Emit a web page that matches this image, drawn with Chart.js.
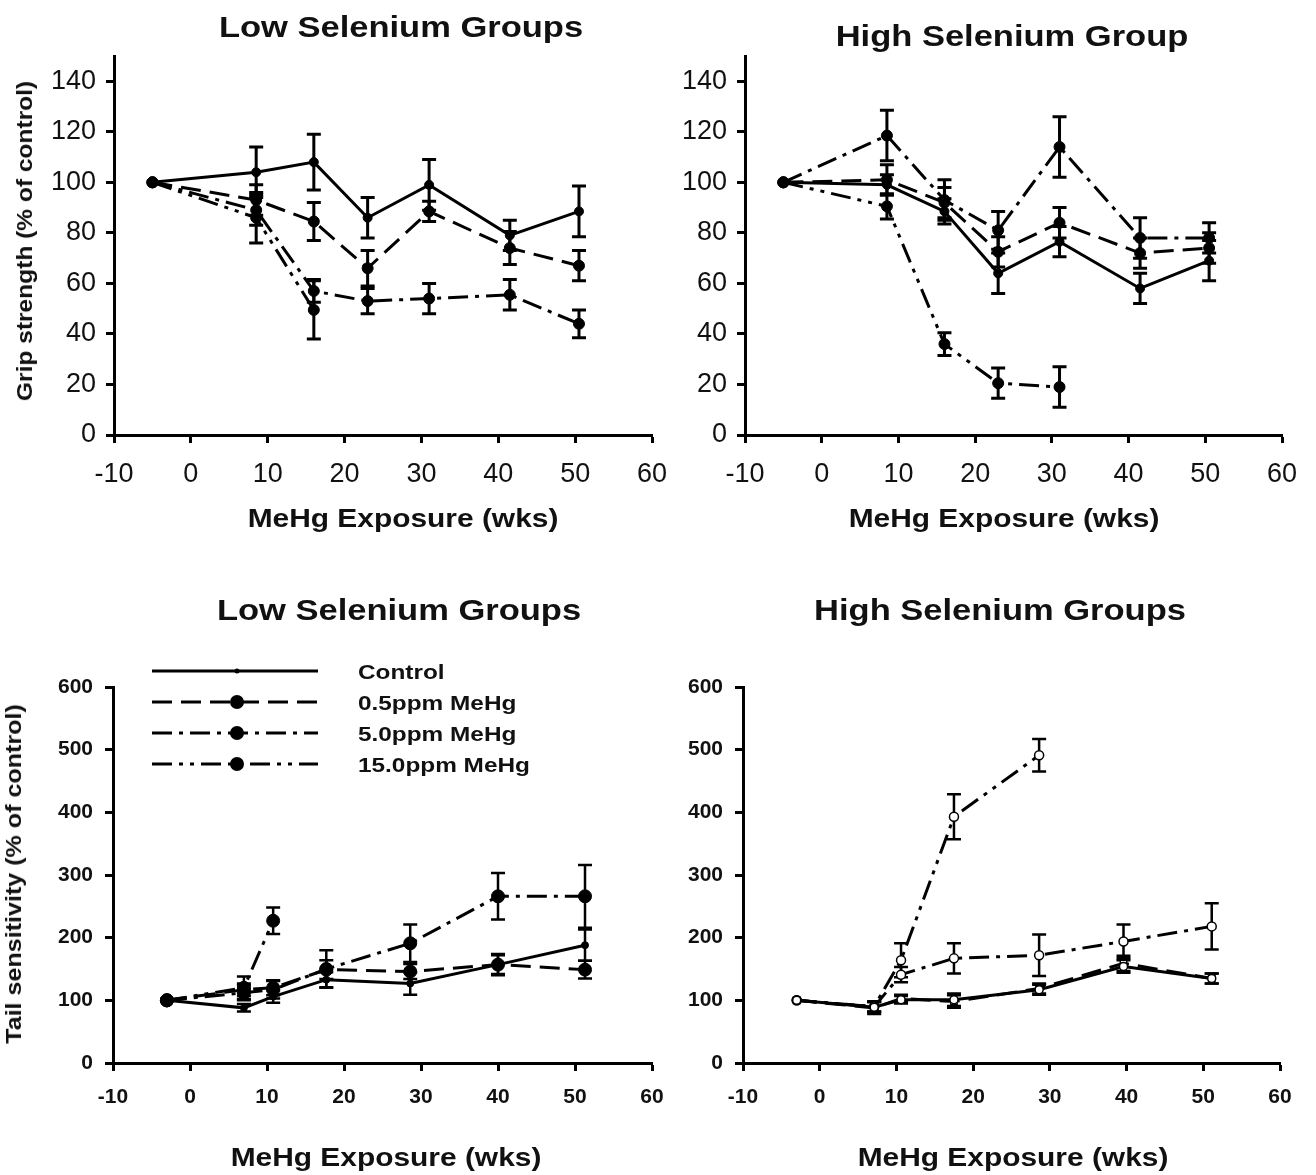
<!DOCTYPE html>
<html><head><meta charset="utf-8">
<script src="https://cdn.jsdelivr.net/npm/chart.js@4.4.1/dist/chart.umd.min.js"></script>
<style>
html,body{margin:0;padding:0;background:#fff;}
body{width:1316px;height:1175px;position:relative;overflow:hidden;font-family:"Liberation Sans",Arial,Helvetica,sans-serif;}
canvas{position:absolute;left:0;top:0;}
.lbl{position:absolute;white-space:nowrap;color:#111;line-height:1;font-weight:bold;}
.c{transform:translateX(-50%) scaleX(1.15);}
.l{transform-origin:0 50%;transform:scaleX(1.16);}
</style></head><body>
<canvas id="c1" width="1316" height="1175"></canvas>
<canvas id="c2" width="1316" height="1175"></canvas>
<canvas id="c3" width="1316" height="1175"></canvas>
<canvas id="c4" width="1316" height="1175"></canvas>

<div class="lbl c" style="left:401px;top:11.6px;font-size:30px;">Low Selenium Groups</div>
<div class="lbl c" style="left:1012px;top:20.6px;font-size:30px;">High Selenium Group</div>
<div class="lbl c" style="left:399px;top:594.6px;font-size:30px;">Low Selenium Groups</div>
<div class="lbl c" style="left:1000px;top:594.6px;font-size:30px;">High Selenium Groups</div>

<div class="lbl c" style="left:403px;top:505px;font-size:26px;">MeHg Exposure (wks)</div>
<div class="lbl c" style="left:1004px;top:505px;font-size:26px;">MeHg Exposure (wks)</div>
<div class="lbl c" style="left:386px;top:1144px;font-size:26px;">MeHg Exposure (wks)</div>
<div class="lbl c" style="left:1013px;top:1144px;font-size:26px;">MeHg Exposure (wks)</div>

<div class="lbl" style="left:25px;top:241px;font-size:22px;transform:translate(-50%,-50%) rotate(-90deg) scaleX(1.115);">Grip strength (% of control)</div>
<div class="lbl" style="left:14px;top:874px;font-size:22px;transform:translate(-50%,-50%) rotate(-90deg) scaleX(1.14);">Tail sensitivity (% of control)</div>

<div class="lbl l" style="left:358px;top:660.7px;font-size:21px;">Control</div>
<div class="lbl l" style="left:358px;top:691.7px;font-size:21px;">0.5ppm MeHg</div>
<div class="lbl l" style="left:358px;top:722.7px;font-size:21px;">5.0ppm MeHg</div>
<div class="lbl l" style="left:358px;top:753.7px;font-size:21px;">15.0ppm MeHg</div>

<script>
// ---------------- DATA ----------------
const xTicks = [-10, 0, 10, 20, 30, 40, 50, 60];
const gripTicks = [0, 20, 40, 60, 80, 100, 120, 140];
const tailTicks = [0, 100, 200, 300, 400, 500, 600];
const seriesNames = ["Control", "0.5ppm MeHg", "5.0ppm MeHg", "15.0ppm MeHg"];

// Grip strength, low selenium
const gripLowWeeks   = [-5, 8.5, 16, 23, 31, 41.5, 50.5];
const gripLowWeeks15 = [-5, 8.5, 16];
const gripLowCtrl    = [100, 104, 108, 86, 99, 79, 88.5];
const gripLowCtrlErr = [0, 10, 11, 8, 10, 6, 10];
const gripLow05      = [100, 93, 84.5, 66, 88.5, 74, 67];
const gripLow05Err   = [0, 6, 7.5, 7, 4, 6.5, 6];
const gripLow5       = [100, 89, 57, 53, 54, 55.5, 44];
const gripLow5Err    = [0, 6, 4.5, 5, 6, 6, 5.5];
const gripLow15      = [100, 86, 49.5];
const gripLow15Err   = [0, 10, 11.5];

// Grip strength, high selenium
const gripHighWeeks   = [-5, 8.5, 16, 23, 31, 41.5, 50.5];
const gripHighWeeks15 = [-5, 8.5, 16, 23, 31];
const gripHighCtrl    = [100, 99, 88.5, 64, 76.5, 58, 69];
const gripHighCtrlErr = [0, 4, 5, 8, 6, 6, 8];
const gripHigh05      = [100, 101, 92, 72.5, 84, 72, 74];
const gripHigh05Err   = [0, 6, 6, 6, 6, 6, 6];
const gripHigh5       = [100, 118.5, 93, 81, 114, 78, 78];
const gripHigh5Err    = [0, 10, 8, 7.5, 12, 8, 6];
const gripHigh15      = [100, 90.5, 36, 20.5, 19];
const gripHigh15Err   = [0, 5, 4.5, 6, 8];

// Tail sensitivity, low selenium
const tailLowWeeks   = [-3, 7, 10.8, 17.7, 28.6, 40, 51.3];
const tailLowWeeks15 = [-3, 7, 10.8];
const tailLowCtrl    = [100, 88, 106, 133, 127, 157, 188];
const tailLowCtrlErr = [0, 6, 10, 12, 18, 15, 25];
const tailLow05      = [100, 117, 120, 149, 146, 157, 149];
const tailLow05Err   = [0, 10, 12, 15, 12, 17, 14];
const tailLow5       = [100, 112, 117, 150, 191, 266, 266];
const tailLow5Err    = [0, 12, 14, 30, 30, 37, 50];
const tailLow15      = [100, 120, 227];
const tailLow15Err   = [0, 18, 21];

// Tail sensitivity, high selenium
const tailHighWeeks   = [-3, 7.1, 10.6, 17.5, 28.6, 39.6, 51.1];
const tailHighWeeks15 = [-3, 7.1, 10.6, 17.5, 28.6];
const tailHighCtrl    = [100, 89, 101, 101, 117, 154, 135];
const tailHighCtrlErr = [0, 8, 6, 10, 8, 10, 8];
const tailHigh05      = [100, 88, 103, 98, 119, 159, 135];
const tailHigh05Err   = [0, 10, 6, 10, 8, 12, 8];
const tailHigh5       = [100, 90, 141, 167, 172, 194, 218];
const tailHigh5Err    = [0, 8, 12, 24, 33, 27, 37];
const tailHigh15      = [100, 90, 164, 393, 491];
const tailHigh15Err   = [0, 8, 27, 36, 26];

// ---------------- STYLE / HELPERS ----------------
const FONT = '"Liberation Sans", Arial, Helvetica, sans-serif';
const DASHES = [[], [20, 9], [20, 7, 4, 7], [20, 7, 4, 7, 4, 7]];
const W = 1316, H = 1175, Y_W = 70, X_H = 60;

function pts(xs, ys) { return xs.map((x, i) => ({ x: x, y: ys[i] })); }

function series(i, weeks, vals, errs, st) {
  return {
    label: seriesNames[i],
    data: pts(weeks, vals),
    errors: errs,
    borderColor: '#000',
    borderWidth: st.lw,
    borderDash: DASHES[i],
    pointRadius: st.r[i],
    pointBackgroundColor: st.fill,
    pointBorderColor: '#000',
    pointBorderWidth: st.pbw,
    pointStyle: st.ps ? st.ps[i] : 'circle',
    tension: 0,
    fill: false
  };
}

const errorBarPlugin = {
  id: 'errorBars',
  beforeDatasetsDraw(chart, args, o) {
    const ctx = chart.ctx, xs = chart.scales.x, ys = chart.scales.y;
    ctx.save();
    ctx.strokeStyle = '#000';
    ctx.lineWidth = o.width;
    ctx.setLineDash([]);
    chart.data.datasets.forEach(ds => {
      if (!ds.errors) return;
      ds.data.forEach((p, j) => {
        const e = ds.errors[j];
        if (!e) return;
        const px = xs.getPixelForValue(p.x);
        const t = ys.getPixelForValue(p.y + e);
        const b = ys.getPixelForValue(p.y - e);
        ctx.beginPath();
        ctx.moveTo(px, t); ctx.lineTo(px, b);
        ctx.moveTo(px - o.cap, t); ctx.lineTo(px + o.cap, t);
        ctx.moveTo(px - o.cap, b); ctx.lineTo(px + o.cap, b);
        ctx.stroke();
      });
    });
    ctx.restore();
  }
};

const sampleLegend = {
  id: 'sampleLegend',
  afterDraw(chart, args, o) {
    if (!o.show) return;
    const ctx = chart.ctx;
    chart.data.datasets.forEach((ds, i) => {
      const y = o.rows[i];
      ctx.save();
      ctx.strokeStyle = '#000';
      ctx.lineWidth = ds.borderWidth;
      ctx.setLineDash(ds.borderDash || []);
      ctx.beginPath(); ctx.moveTo(o.x0, y); ctx.lineTo(o.x1, y); ctx.stroke();
      ctx.setLineDash([]);
      ctx.beginPath(); ctx.arc(o.xm, y, o.r[i], 0, Math.PI * 2);
      ctx.fillStyle = '#000'; ctx.fill();
      ctx.restore();
    });
  }
};

function makeChart(id, c) {
  const tickSet = (arr) => (s) => { s.ticks = arr.map(v => ({ value: v })); };
  return new Chart(document.getElementById(id), {
    type: 'line',
    data: { datasets: c.datasets },
    options: {
      responsive: false,
      animation: false,
      events: [],
      layout: { padding: { left: c.area.l - Y_W, right: W - c.area.r, top: c.area.t, bottom: H - c.area.b - X_H } },
      plugins: {
        legend: { display: false },
        tooltip: { enabled: false },
        errorBars: { width: c.errW, cap: c.cap },
        sampleLegend: c.legend || { show: false }
      },
      scales: {
        x: {
          type: 'linear', min: -10, max: 60,
          afterBuildTicks: tickSet(xTicks),
          ticks: { color: '#111', font: c.tickFont, padding: c.xPad, maxRotation: 0, autoSkip: false },
          grid: { drawOnChartArea: false, drawTicks: true, tickLength: 8, tickWidth: 3, tickColor: '#000' },
          border: { display: true, color: '#000', width: 3 },
          afterFit: s => { s.height = X_H; }
        },
        y: {
          type: 'linear', min: 0, max: c.yMax,
          afterBuildTicks: tickSet(c.yTicks),
          ticks: { color: '#111', font: c.tickFont, padding: c.yPad, autoSkip: false },
          grid: { drawOnChartArea: false, drawTicks: true, tickLength: 8, tickWidth: 3, tickColor: '#000' },
          border: { display: true, color: '#000', width: 3 },
          afterFit: s => { s.width = Y_W; }
        }
      }
    },
    plugins: [errorBarPlugin, sampleLegend]
  });
}

const topStyle = { lw: 3, r: [4.5, 5.5, 5.5, 5.5], fill: '#000', pbw: 1 };
const blStyle  = { lw: 3, r: [3.5, 6.5, 6.5, 6.5], fill: '#000', pbw: 1 };
const brStyle  = { lw: 3, r: [4, 4.5, 4.5, 4.5], fill: '#fff', pbw: 1.5, ps: ['circle', 'rect', 'circle', 'circle'] };
const topFont = { family: FONT, size: 27, lineHeight: 1.2 };
const botFont = { family: FONT, size: 21, weight: 'bold', lineHeight: 1.2 };

makeChart('c1', {
  area: { l: 114, r: 652, t: 56, b: 435 }, yMax: 150, yTicks: gripTicks,
  tickFont: topFont, xPad: 15, yPad: 10, errW: 3, cap: 7,
  datasets: [
    series(0, gripLowWeeks, gripLowCtrl, gripLowCtrlErr, topStyle),
    series(1, gripLowWeeks, gripLow05, gripLow05Err, topStyle),
    series(2, gripLowWeeks, gripLow5, gripLow5Err, topStyle),
    series(3, gripLowWeeks15, gripLow15, gripLow15Err, topStyle)
  ]
});

makeChart('c2', {
  area: { l: 745, r: 1282, t: 56, b: 435 }, yMax: 150, yTicks: gripTicks,
  tickFont: topFont, xPad: 15, yPad: 10, errW: 3, cap: 7,
  datasets: [
    series(0, gripHighWeeks, gripHighCtrl, gripHighCtrlErr, topStyle),
    series(1, gripHighWeeks, gripHigh05, gripHigh05Err, topStyle),
    series(2, gripHighWeeks, gripHigh5, gripHigh5Err, topStyle),
    series(3, gripHighWeeks15, gripHigh15, gripHigh15Err, topStyle)
  ]
});

makeChart('c3', {
  area: { l: 113, r: 652, t: 687, b: 1063 }, yMax: 600, yTicks: tailTicks,
  tickFont: botFont, xPad: 14, yPad: 12, errW: 2.5, cap: 7,
  legend: { show: true, rows: [671, 702, 733, 764], x0: 152, x1: 318, xm: 237, r: [2.5, 7, 7, 7] },
  datasets: [
    series(0, tailLowWeeks, tailLowCtrl, tailLowCtrlErr, blStyle),
    series(1, tailLowWeeks, tailLow05, tailLow05Err, blStyle),
    series(2, tailLowWeeks, tailLow5, tailLow5Err, blStyle),
    series(3, tailLowWeeks15, tailLow15, tailLow15Err, blStyle)
  ]
});

makeChart('c4', {
  area: { l: 743, r: 1280, t: 687, b: 1063 }, yMax: 600, yTicks: tailTicks,
  tickFont: botFont, xPad: 14, yPad: 12, errW: 2.5, cap: 7,
  datasets: [
    series(0, tailHighWeeks, tailHighCtrl, tailHighCtrlErr, brStyle),
    series(1, tailHighWeeks, tailHigh05, tailHigh05Err, brStyle),
    series(2, tailHighWeeks, tailHigh5, tailHigh5Err, brStyle),
    series(3, tailHighWeeks15, tailHigh15, tailHigh15Err, brStyle)
  ]
});
</script>
</body></html>
